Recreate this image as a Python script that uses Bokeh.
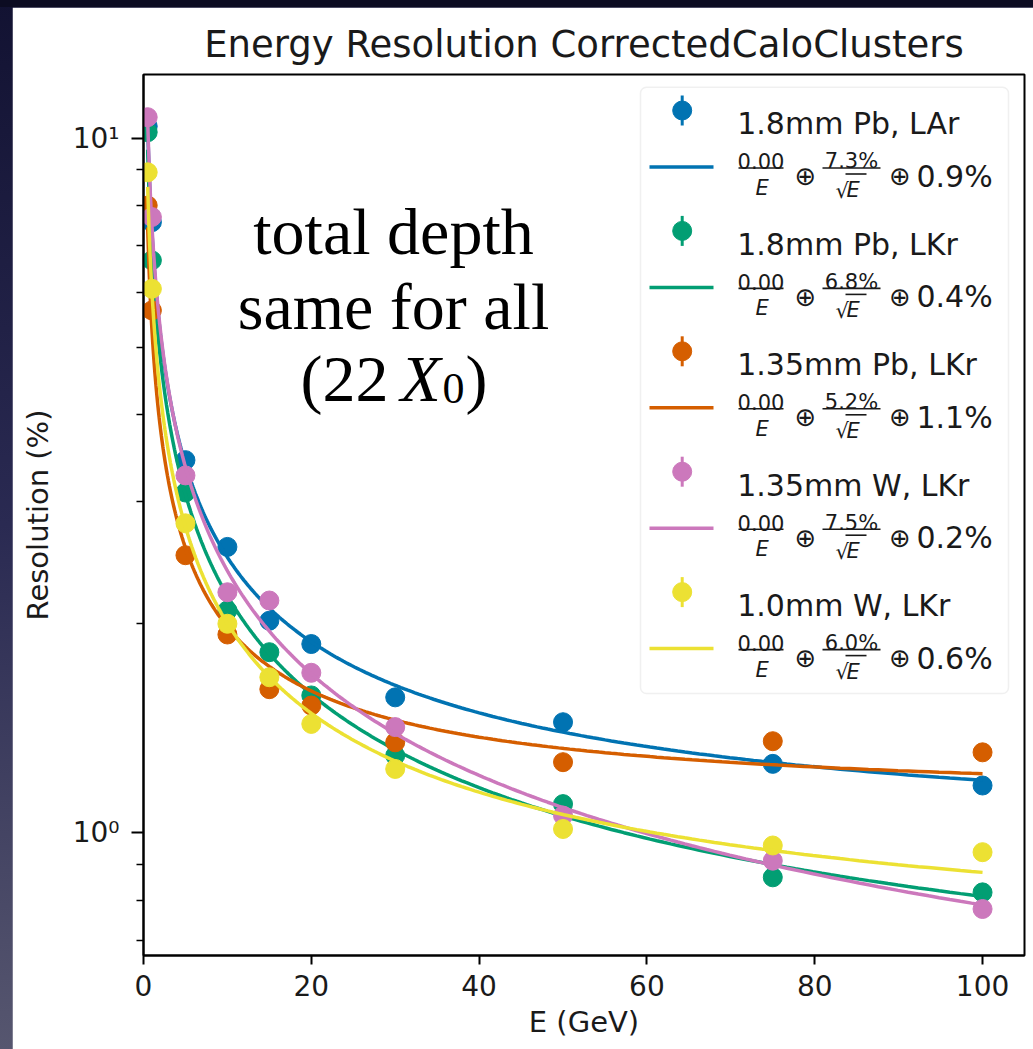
import math
from bokeh.plotting import figure
from bokeh.models import Label, BoxAnnotation, FixedTicker, Range1d
from bokeh.embed import file_html
from bokeh.resources import INLINE

# ---------------- data ----------------
energy_gev = [0.5, 1, 5, 10, 15, 20, 30, 50, 75, 100]
res_18pb_lar = [10.4, 7.57, 3.44, 2.58, 2.02, 1.87, 1.567, 1.443, 1.257, 1.170]
res_18pb_lkr = [10.2, 6.67, 3.09, 2.09, 1.82, 1.577, 1.292, 1.10, 0.863, 0.821]
res_135pb_lkr = [8.0, 5.65, 2.51, 1.93, 1.61, 1.525, 1.35, 1.264, 1.355, 1.306]
res_135w_lkr = [10.72, 7.70, 3.27, 2.22, 2.16, 1.70, 1.42, 1.059, 0.912, 0.777]
res_10w_lkr = [8.93, 6.07, 2.79, 2.0, 1.675, 1.435, 1.236, 1.013, 0.959, 0.938]

series_labels = ["1.8mm Pb, LAr", "1.8mm Pb, LKr", "1.35mm Pb, LKr",
                 "1.35mm W, LKr", "1.0mm W, LKr"]
series_colors = ["#0173b2", "#029e73", "#d55e00", "#cc78bc", "#ece133"]

# fit parameters  sigma/E = a/E (+) b/sqrt(E) (+) c   (in %)
fit_noise = [0.0, 0.0, 0.0, 0.0, 0.0]
fit_stochastic = [7.3, 6.8, 5.2, 7.5, 6.0]
fit_constant = [0.94, 0.44, 1.1, 0.24, 0.64]
fit_e_min, fit_e_max = 0.5, 100
noise_text = ["0.00", "0.00", "0.00", "0.00", "0.00"]
stochastic_text = ["7.3%", "6.8%", "5.2%", "7.5%", "6.0%"]
constant_text = ["0.9%", "0.4%", "1.1%", "0.2%", "0.6%"]

x_ticks = [0, 20, 40, 60, 80, 100]
y_major_ticks = [1, 10]
y_minor_ticks = [0.7, 0.8, 0.9, 2, 3, 4, 5, 6, 7, 8, 9]
y_tick_labels = {1: "10⁰", 10: "10¹"}

X_START, X_END = 0, 105
Y_START, Y_END = 0.666, 12.35

# ---------------- layout (page pixels) ----------------
PAGE_W, PAGE_H = 1033, 1049
OFF_X, OFF_Y = 12, 7          # dark slide strip on the left / top
FRAME_L, FRAME_R, FRAME_T, FRAME_B = 143, 1024, 74, 955
FIG_W, FIG_H = PAGE_W - OFF_X, PAGE_H - OFF_Y


def px_x(px):
    return X_START + (px - FRAME_L) / (FRAME_R - FRAME_L) * (X_END - X_START)


def px_y(py):
    l0, l1 = math.log10(Y_START), math.log10(Y_END)
    return 10 ** (l0 + (FRAME_B - py) / (FRAME_B - FRAME_T) * (l1 - l0))


p = figure(width=FIG_W, height=FIG_H,
           x_range=Range1d(X_START, X_END), y_range=Range1d(Y_START, Y_END),
           y_axis_type="log", output_backend="svg", toolbar_location=None,
           min_border_left=FRAME_L - OFF_X, min_border_top=FRAME_T - OFF_Y,
           min_border_right=FIG_W - (FRAME_R - OFF_X),
           min_border_bottom=FIG_H - (FRAME_B - OFF_Y))
p.margin = (OFF_Y, 0, 0, OFF_X)
p.background_fill_color = "white"
p.border_fill_color = "white"
p.outline_line_color = "black"
p.outline_line_width = 2
p.grid.visible = False

FONT = "DejaVu Sans"
TICK_SIZE = "28px"
TXT = "#1a1a1a"

p.title.text = "Energy Resolution CorrectedCaloClusters"
p.title.align = "center"
p.title.text_font = FONT
p.title.text_font_size = "37px"
p.title.text_font_style = "normal"
p.title.text_color = TXT
p.title.standoff = 18

p.xaxis.ticker = FixedTicker(ticks=x_ticks)
p.xaxis.major_tick_in = 0
p.xaxis.major_tick_out = 9
p.xaxis.minor_tick_in = 0
p.xaxis.minor_tick_out = 0
p.xaxis.major_label_standoff = 10
p.xaxis.axis_label = "E (GeV)"
p.xaxis.axis_label_standoff = 6

p.yaxis.ticker = FixedTicker(ticks=y_major_ticks, minor_ticks=y_minor_ticks)
p.yaxis.major_label_overrides = y_tick_labels
p.yaxis.major_tick_in = 0
p.yaxis.major_tick_out = 12
p.yaxis.minor_tick_in = 0
p.yaxis.minor_tick_out = 7
p.yaxis.major_label_standoff = 12
p.yaxis.axis_label = "Resolution (%)"
p.yaxis.axis_label_standoff = 15

for ax in (p.xaxis, p.yaxis):
    ax.axis_line_color = "black"
    ax.axis_line_width = 2
    ax.major_tick_line_color = "black"
    ax.major_tick_line_width = 2
    ax.minor_tick_line_color = "black"
    ax.minor_tick_line_width = 1.5
    ax.major_label_text_font = FONT
    ax.major_label_text_font_size = TICK_SIZE
    ax.major_label_text_color = TXT
    ax.axis_label_text_font = FONT
    ax.axis_label_text_font_size = "29px"
    ax.axis_label_text_font_style = "normal"
    ax.axis_label_text_color = TXT

# ---------------- data ----------------
all_series = [res_18pb_lar, res_18pb_lkr, res_135pb_lkr, res_135w_lkr, res_10w_lkr]
n_fit = 400
fit_e = [fit_e_min * (fit_e_max / fit_e_min) ** (i / (n_fit - 1)) for i in range(n_fit)]

for vals, col, a, b, c in zip(all_series, series_colors, fit_noise, fit_stochastic, fit_constant):
    p.scatter(energy_gev, vals, size=19, color=col, line_color=col)
    fit_vals = [math.sqrt((a / e) ** 2 + (b / math.sqrt(e)) ** 2 + c ** 2) for e in fit_e]
    p.line(fit_e, fit_vals, line_color=col, line_width=3.5)

# ---------------- annotation text ----------------
SERIF = "Liberation Serif"
for txt, base in (("total depth", 231), ("same for all", 306)):
    p.add_layout(Label(x=px_x(393), y=px_y(base), text=txt, text_align="center",
                       text_baseline="alphabetic", text_font=SERIF,
                       text_font_size="66px", text_color="black"))
p.add_layout(Label(x=px_x(300), y=px_y(378), text="(22", text_align="left",
                   text_baseline="alphabetic", text_font=SERIF,
                   text_font_size="66px", text_color="black"))
p.add_layout(Label(x=px_x(400), y=px_y(378), text="X", text_align="left",
                   text_baseline="alphabetic", text_font=SERIF, text_font_style="italic",
                   text_font_size="66px", text_color="black"))
p.add_layout(Label(x=px_x(442), y=px_y(388), text="0", text_align="left",
                   text_baseline="alphabetic", text_font=SERIF,
                   text_font_size="44px", text_color="black"))
p.add_layout(Label(x=px_x(465), y=px_y(378), text=")", text_align="left",
                   text_baseline="alphabetic", text_font=SERIF,
                   text_font_size="66px", text_color="black"))

# ---------------- legend ----------------
p.add_layout(BoxAnnotation(left=px_x(640), right=px_x(1008), top=px_y(86.7), bottom=px_y(693),
                           fill_color="white", fill_alpha=0.85, line_color="#cccccc",
                           line_width=1.5, border_radius=6))

for k, (lab, col, nt, st, ct) in enumerate(zip(series_labels, series_colors, noise_text,
                                               stochastic_text, constant_text)):
    yt = 110 + 120.4 * k
    yl = yt + 56.5
    # marker with error bar
    p.segment([px_x(681.7)], [px_y(yt - 15)], [px_x(681.7)], [px_y(yt + 15)],
              line_color=col, line_width=3, level="overlay")
    p.scatter([px_x(681.7)], [px_y(yt)], size=19, color=col, line_color=col, level="overlay")
    p.add_layout(Label(x=px_x(736.7), y=px_y(yt + 13.3), text=lab, text_align="left",
                       text_baseline="alphabetic", text_font=FONT,
                       text_font_size="30px", text_color=TXT))
    # line sample
    p.line([px_x(649), px_x(713)], [px_y(yl), px_y(yl)], line_color=col, line_width=3.5,
           level="overlay")
    # formula: a/E (+) b/sqrt(E) (+) c
    p.add_layout(Label(x=px_x(760.5), y=px_y(yl - 5.6), text=nt, text_align="center",
                       text_baseline="alphabetic", text_font=FONT,
                       text_font_size="21px", text_color=TXT))
    p.add_layout(Label(x=px_x(761.7), y=px_y(yl + 21), text="E", text_align="center",
                       text_baseline="alphabetic", text_font=FONT, text_font_style="italic",
                       text_font_size="21px", text_color=TXT))
    p.add_layout(Label(x=px_x(805), y=px_y(yl + 9.4), text="⊕", text_align="center",
                       text_baseline="alphabetic", text_font=FONT,
                       text_font_size="26px", text_color=TXT))
    p.add_layout(Label(x=px_x(851), y=px_y(yl - 5.6), text=st, text_align="center",
                       text_baseline="alphabetic", text_font=FONT,
                       text_font_size="21px", text_color=TXT))
    p.add_layout(Label(x=px_x(835), y=px_y(yl + 23.5), text="√", text_align="left",
                       text_baseline="alphabetic", text_font=FONT,
                       text_font_size="21px", text_color=TXT))
    p.add_layout(Label(x=px_x(846), y=px_y(yl + 23), text="E", text_align="left",
                       text_baseline="alphabetic", text_font=FONT, text_font_style="italic",
                       text_font_size="21px", text_color=TXT))
    p.add_layout(Label(x=px_x(899.3), y=px_y(yl + 9.4), text="⊕", text_align="center",
                       text_baseline="alphabetic", text_font=FONT,
                       text_font_size="26px", text_color=TXT))
    p.add_layout(Label(x=px_x(916), y=px_y(yl + 9.4), text=ct, text_align="left",
                       text_baseline="alphabetic", text_font=FONT,
                       text_font_size="30px", text_color=TXT))
    # fraction bars and sqrt overline
    p.segment([px_x(738), px_x(822), px_x(845)], [px_y(yl + 1), px_y(yl + 1), px_y(yl + 7)],
              [px_x(783), px_x(880), px_x(866)], [px_y(yl + 1), px_y(yl + 1), px_y(yl + 7)],
              line_color=TXT, line_width=1.6, level="overlay")

html = file_html(p, INLINE)
html = html.replace(
    "</head>",
    "<style>html, body { background: linear-gradient(to bottom, #0c0c22 0px, #0c0c22 7px, "
    "transparent 7px), linear-gradient(to bottom, #121232 0%, #2a2a52 50%, #56566f 100%) "
    "!important; }</style></head>", 1)
open("out.html", "w").write(html)
